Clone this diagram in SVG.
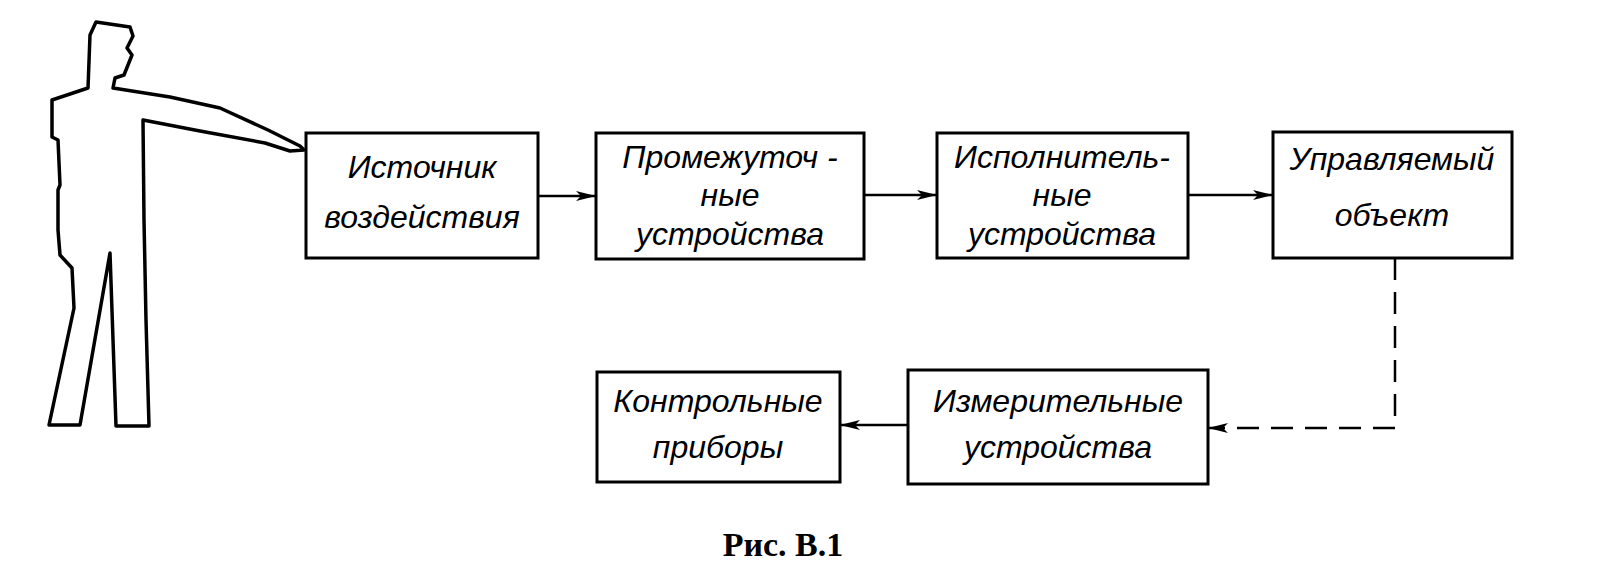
<svg xmlns="http://www.w3.org/2000/svg" width="1600" height="585" viewBox="0 0 1600 585">
<style>
.b{fill:#fff;stroke:#000;stroke-width:3}
.t{font-family:"Liberation Sans",Arial,sans-serif;font-style:italic;font-size:32px;text-anchor:middle;fill:#000}
.c{stroke:#000;stroke-width:2.5;fill:none}
</style>
<defs><marker id="a" markerWidth="20" markerHeight="10" refX="20" refY="5" orient="auto" markerUnits="userSpaceOnUse"><path d="M0,0 L20,5 L0,10 L5,5 Z" fill="#000"/></marker></defs>
<g id="person"><path d="M96,22 L130,27 L133,36 L127,48 L132,55 L124,75 L115,78 L113,88 L170,97 L220,108 L268,130 L300,146 L304,150 L290,151 L265,143 L200,131 L143,120 L144,220 L146,320 L149,426 L116,426 L110,253 L80,425 L49,425 L74,308 L72,268 L60,255 L58,230 L58,190 L60,185 L58,140 L52,137 L52,100 L88,88 L90,35 Z" fill="#fff" stroke="#000" stroke-width="3.5" stroke-linejoin="round"/></g>
<g id="n1"><rect class="b" x="306" y="133" width="232" height="125"/><text class="t" x="422" y="178">Источник</text><text class="t" x="422" y="228">воздействия</text></g>
<g id="n2"><rect class="b" x="596" y="133" width="268" height="126"/><text class="t" x="730" y="168">Промежуточ -</text><text class="t" x="730" y="206">ные</text><text class="t" x="730" y="245">устройства</text></g>
<g id="n3"><rect class="b" x="937" y="133" width="251" height="125"/><text class="t" x="1062" y="168">Исполнитель-</text><text class="t" x="1062" y="206">ные</text><text class="t" x="1062" y="245">устройства</text></g>
<g id="n4"><rect class="b" x="1273" y="132" width="239" height="126"/><text class="t" x="1392" y="170">Управляемый</text><text class="t" x="1392" y="226">объект</text></g>
<g id="n5"><rect class="b" x="597" y="372" width="243" height="110"/><text class="t" x="718" y="412">Контрольные</text><text class="t" x="718" y="458">приборы</text></g>
<g id="n6"><rect class="b" x="908" y="370" width="300" height="114"/><text class="t" x="1058" y="412">Измерительные</text><text class="t" x="1058" y="458">устройства</text></g>
<g id="connectors">
<line class="c" x1="538" y1="196" x2="596" y2="196" marker-end="url(#a)"/>
<line class="c" x1="864" y1="195" x2="937" y2="195" marker-end="url(#a)"/>
<line class="c" x1="1188" y1="195" x2="1273" y2="195" marker-end="url(#a)"/>
<polyline class="c" points="1395,258 1395,428 1208,428" stroke-dasharray="22,12" marker-end="url(#a)"/>
<line class="c" x1="908" y1="425" x2="840" y2="425" marker-end="url(#a)"/>
</g>
<text x="783" y="556" font-family="Liberation Serif,serif" font-weight="bold" font-size="34" text-anchor="middle">Рис. В.1</text>
</svg>
